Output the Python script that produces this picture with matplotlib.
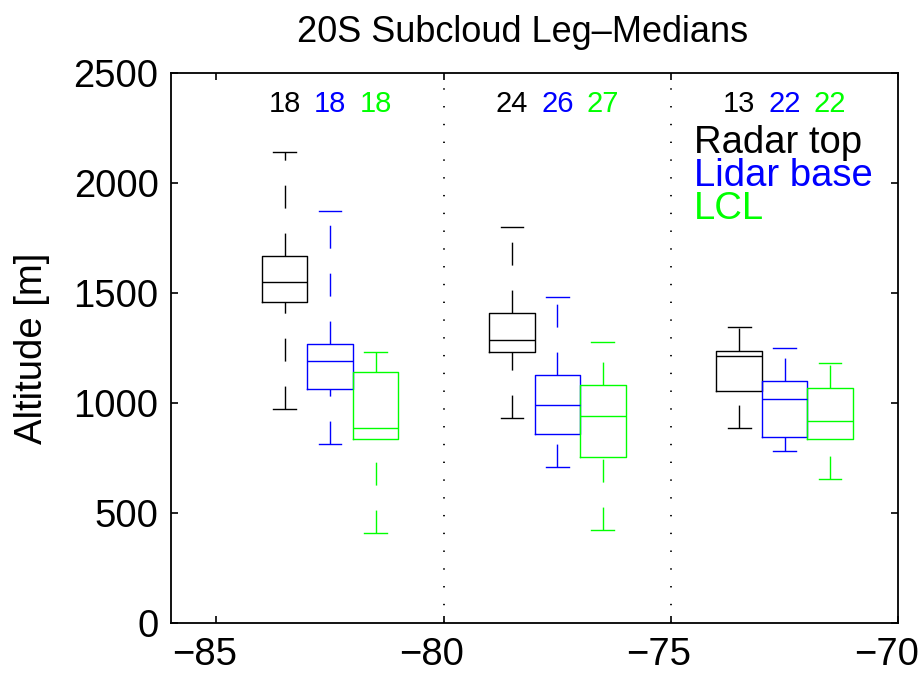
import matplotlib
matplotlib.use("Agg")
import matplotlib.pyplot as plt
from matplotlib.transforms import ScaledTranslation

plt.rcParams["font.family"] = ["Liberation Sans", "DejaVu Sans"]
plt.rcParams["lines.scale_dashes"] = False

# Longitude of each leg (centre of each group of boxes)
leg_lon = [-82.5, -77.5, -72.5]

# Radar cloud top statistics [m]
radar_lo = [972, 934, 888]
radar_q1 = [1457, 1230, 1055]
radar_med = [1548, 1286, 1214]
radar_q3 = [1669, 1408, 1236]
radar_hi = [2141, 1799, 1344]
radar_n = [18, 24, 13]

# Lidar cloud base statistics [m]
lidar_lo = [813, 711, 784]
lidar_q1 = [1064, 858, 846]
lidar_med = [1191, 993, 1017]
lidar_q3 = [1268, 1127, 1102]
lidar_hi = [1873, 1480, 1249]
lidar_n = [18, 26, 22]

# Lifting condensation level statistics [m]
lcl_lo = [409, 425, 655]
lcl_q1 = [836, 754, 836]
lcl_med = [888, 941, 920]
lcl_q3 = [1142, 1083, 1067]
lcl_hi = [1230, 1276, 1182]
lcl_n = [18, 27, 22]

series_names = ["Radar top", "Lidar base", "LCL"]
series_colors = ["#000000", "#0000ff", "#00ff00"]
series_offsets = [-1.0, 0.0, 1.0]

xticks = [-85, -80, -75, -70]
yticks = [0, 500, 1000, 1500, 2000, 2500]
separators = [-80, -75]

series = [
    (radar_lo, radar_q1, radar_med, radar_q3, radar_hi, radar_n),
    (lidar_lo, lidar_q1, lidar_med, lidar_q3, lidar_hi, lidar_n),
    (lcl_lo, lcl_q1, lcl_med, lcl_q3, lcl_hi, lcl_n),
]

fig = plt.figure(figsize=(9.22, 6.75), dpi=100)
ax = fig.add_axes([171 / 922, 1 - 623.3 / 675, 727.3 / 922, 550.6 / 675])

for sep in separators:
    ax.axvline(sep, color="black", linewidth=1.3, linestyle=(0, (1.0, 11.8)), zorder=1)

for (lo, q1, med, q3, hi, n), color, off in zip(series, series_colors, series_offsets):
    stats = []
    for i in range(len(leg_lon)):
        stats.append(dict(med=med[i], q1=q1[i], q3=q3[i], whislo=lo[i], whishi=hi[i], fliers=[]))
    pos = [x + off for x in leg_lon]
    art = ax.bxp(
        stats, positions=pos, widths=1.0, capwidths=0.5, showfliers=False,
        manage_ticks=False,
        boxprops=dict(color=color, linewidth=1.0),
        medianprops=dict(color=color, linewidth=1.0),
        whiskerprops=dict(color=color, linewidth=1.0, linestyle=(0, (16.5, 18.0))),
        capprops=dict(color=color, linewidth=1.0),
    )
    # draw lower whiskers upward from the whisker end so the dash phase starts there
    for i in range(len(leg_lon)):
        w = art["whiskers"][2 * i]
        w.set_ydata([lo[i], q1[i]])
    for x, count in zip(pos, n):
        ax.text(x, 2323, str(count), color=color, fontsize=21, ha="center", va="baseline")

for k, (name, color) in enumerate(zip(series_names, series_colors)):
    ax.text(-74.5, 2137 - 150 * k, name, color=color, fontsize=27.5, ha="left", va="baseline")

ax.set_xlim(-86, -70)
ax.set_ylim(0, 2500)
ax.set_xticks(xticks)
ax.set_yticks(yticks)
ax.tick_params(direction="in", length=5, width=1.2, top=True, right=True, labelsize=27.5)
ax.tick_params(axis="x", pad=10)
ax.tick_params(axis="y", pad=9)
for sp in ax.spines.values():
    sp.set_linewidth(1.3)

# longitude labels sit slightly left of their ticks
shift = ScaledTranslation(-0.12, 0, fig.dpi_scale_trans)
for lab in ax.get_xticklabels():
    lab.set_transform(lab.get_transform() + shift)

ax.set_ylabel("Altitude [m]", fontsize=27.5)
ax.yaxis.set_label_coords(-0.166, 0.5)
ax.set_title("20S Subcloud Leg\u2013Medians", fontsize=26, x=0.484, pad=22)

fig.savefig("out.png", dpi=100)
